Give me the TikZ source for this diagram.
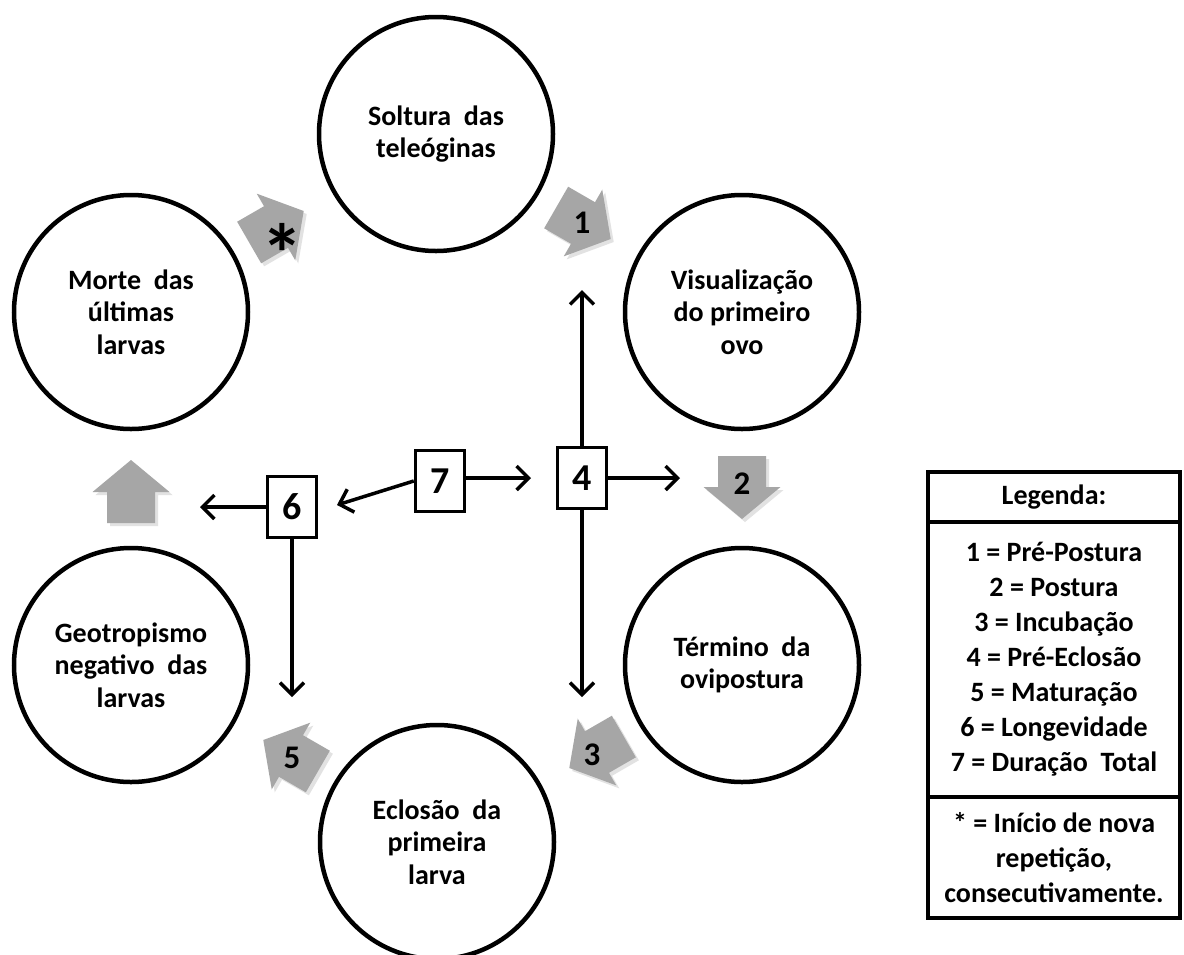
\documentclass[tikz,border=0pt]{standalone}
\usepackage{fontspec}
\setmainfont{Carlito}
\usetikzlibrary{arrows.meta}
\definecolor{agray}{HTML}{A6A6A6}
\definecolor{sgray}{HTML}{E2E2E2}
\newcommand\ctext{\fontsize{28}{32.5}\selectfont\bfseries}
\newcommand\btext{\fontsize{38}{38}\selectfont\bfseries}
\newcommand\gtext{\fontsize{33}{33}\selectfont\bfseries}
\newcommand\ltext{\fontsize{28}{35}\selectfont\bfseries}
\begin{document}
\begin{tikzpicture}[x=1pt,y=-1pt,
  circ/.style={circle, draw, line width=4.5pt, minimum size=234pt, inner sep=0pt, font=\ctext, align=center},
  numbox/.style={draw, line width=3.5pt, fill=white, minimum width=49pt, minimum height=61pt, inner sep=0pt, font=\btext},
  conn/.style={line width=3.5pt, -{Straight Barb[length=12pt,width=24pt]}},
  glabel/.style={font=\gtext, inner sep=0pt},
  legbox/.style={draw, line width=4pt, minimum width=252pt, inner sep=0pt, align=center, font=\ltext},
  gshadow/.pic={
    \fill[sgray] (-31,-24) -- (0,-24) -- (0,-38.5) -- (32,0) -- (0,38.5) -- (0,24) -- (-31,24) -- cycle;},
  garrow/.pic={
    \fill[agray] (-31,-24) -- (0,-24) -- (0,-38.5) -- (32,0) -- (0,38.5) -- (0,24) -- (-31,24) -- cycle;}
]
\useasboundingbox (0,0) rectangle (1184,954);
\fill[white] (0,0) rectangle (1184,954);

% circles
\node[circ] (sol) at (436,134) {Soltura\ \ das\\teleóginas};
\node[circ] (vis) at (742,312) {Visualização\\do primeiro\\ovo};
\node[circ] (ter) at (742,665) {Término\ \ da\\ovipostura};
\node[circ] (ecl) at (437,842) {Eclosão\ \ da\\primeira\\larva};
\node[circ] (geo) at (131,665) {Geotropismo\\negativo\ \ das\\larvas};
\node[circ] (mor) at (131,312) {Morte\ \ das\\últimas\\larvas};

% gray block arrows (soft shadow, then arrow)
\pic[rotate=30] at (279,230) {gshadow};
\pic[rotate=-30] at (586,226) {gshadow};
\pic[rotate=-90] at (745,490) {gshadow};
\pic[rotate=-150] at (600,755) {gshadow};
\pic[rotate=150] at (294,759) {gshadow};
\pic[rotate=90] at (134,495) {gshadow};
\pic[rotate=30] at (276,227) {garrow};
\pic[rotate=-30] at (583,223) {garrow};
\pic[rotate=-90] at (742,487) {garrow};
\pic[rotate=-150] at (597,752) {garrow};
\pic[rotate=150] at (291,756) {garrow};
\pic[rotate=90] at (131,492) {garrow};
\node[font=\fontsize{84}{84}\selectfont\bfseries, inner sep=0pt] (ast) at (282,253) {*};
\node[glabel] (g1) at (582,223) {1};
\node[glabel] (g2) at (742,484) {2};
\node[glabel] (g3) at (592,755) {3};
\node[glabel] (g5) at (292,758) {5};

% number boxes
\node[numbox] (b4) at (582,478) {4};
\node[numbox] (b7) at (440,481) {7};
\node[numbox] (b6) at (292,507) {6};

\coordinate (u4) at (582,290);
\coordinate (d4) at (582,697);
\coordinate (r4) at (680,478);
\coordinate (r7) at (531,478);
\coordinate (l7) at (337,505);
\coordinate (l6) at (200,507);
\coordinate (d6) at (292,697);

\draw[conn] (b4.north) -- (u4);
\draw[conn] (b4.south) -- (d4);
\draw[conn] (b4.east) -- (r4);
\draw[conn] (b7.east |- r7) -- (r7);
\draw[conn] (b7.west) -- (l7);
\draw[conn] (b6.west) -- (l6);
\draw[conn] (b6.south) -- (d6);

% legend
\node[legbox, minimum height=50pt] (lh) at (1054,497) {Legenda:};
\node[legbox, minimum height=275pt] (lb) at (1054,659.5) {1 = Pré-Postura\\2 = Postura\\3 = Incubação\\4 = Pré-Eclosão\\5 = Maturação\\6 = Longevidade\\7 = Duração\ \ Total};
\node[legbox, minimum height=121pt] (lf) at (1054,857.5) {* = Início de nova\\repetição,\\consecutivamente.};
\end{tikzpicture}
\end{document}
